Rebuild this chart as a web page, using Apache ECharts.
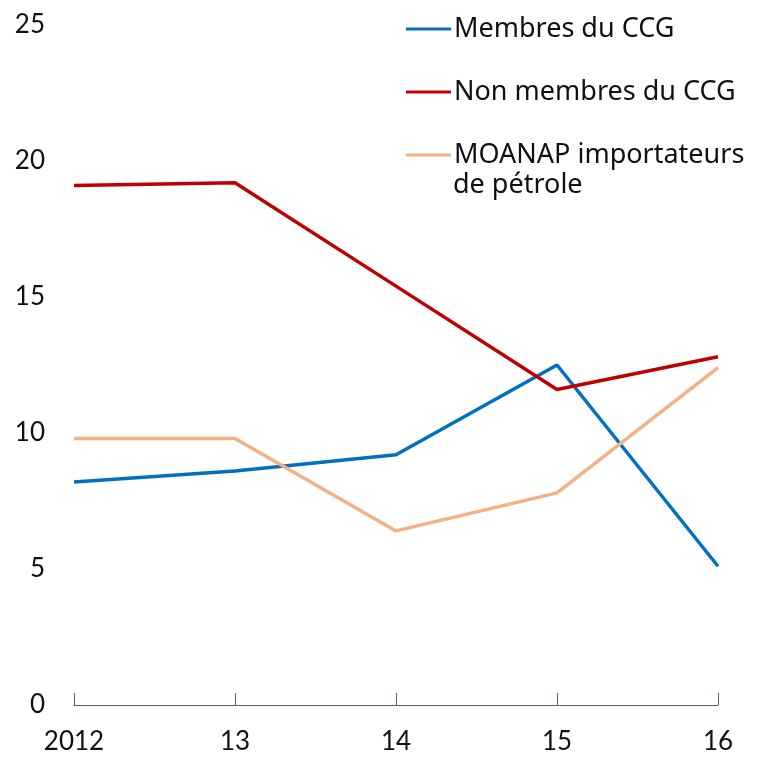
<!DOCTYPE html>
<html>
<head>
<meta charset="utf-8">
<script src="https://cdn.jsdelivr.net/npm/echarts@6/dist/echarts.min.js"></script>
<style>
  html, body { margin: 0; padding: 0; background: #fff; }
  #main { width: 759px; height: 757px; }
</style>
</head>
<body>
<div id="main"></div>
<script>
const years = ['2012', '13', '14', '15', '16']
const membresCCG = [8.2, 8.6, 9.2, 12.5, 5.1]
const nonMembresCCG = [19.1, 19.2, 15.4, 11.6, 12.8]
const moanapImport = [9.8, 9.8, 6.4, 7.8, 12.4]

const names = ['Membres du CCG', 'Non membres du CCG', 'MOANAP importateurs\nde pétrole']
const colors = ['#0070C0', '#C00000', '#F4B183']
const font = 'Lato'
const legendFont = 'Noto Sans'

const chart = echarts.init(document.getElementById('main'))
const option = {
  animation: false,
  grid: { left: 74, right: 41, top: 25, bottom: 52 },
  legend: {
    orient: 'vertical',
    left: 401,
    top: 7,
    itemGap: 29,
    itemWidth: 45,
    itemHeight: 3,
    icon: 'rect',
    // second line of the last name is drawn as a separate text below
    formatter: name => name.split('\n')[0],
    textStyle: { fontFamily: legendFont, fontSize: 27, color: '#111', lineHeight: 34, padding: [0, 0, 0, -2] },
    data: names
  },
  graphic: [
    {
      type: 'text',
      left: 453,
      top: 172,
      style: { text: names[2].split('\n')[1], fontFamily: legendFont, fontSize: 27, fill: '#111' }
    }
  ],
  xAxis: {
    type: 'category',
    data: years,
    boundaryGap: false,
    axisLine: { lineStyle: { color: '#4a6488', width: 1 } },
    axisTick: { inside: true, length: 12, alignWithLabel: true, lineStyle: { color: '#4a6488' } },
    axisLabel: { fontFamily: font, fontSize: 26, color: '#111', margin: 24 }
  },
  yAxis: {
    type: 'value',
    min: 0,
    max: 25,
    interval: 5,
    splitLine: { show: false },
    axisLine: { show: false },
    axisTick: { show: false },
    axisLabel: { fontFamily: font, fontSize: 26, color: '#111', margin: 29 }
  },
  series: [
    { name: names[0], type: 'line', data: membresCCG, symbol: 'none', lineStyle: { color: colors[0], width: 3.5 }, itemStyle: { color: colors[0] } },
    { name: names[1], type: 'line', data: nonMembresCCG, symbol: 'none', lineStyle: { color: colors[1], width: 3.5 }, itemStyle: { color: colors[1] } },
    { name: names[2], type: 'line', data: moanapImport, symbol: 'none', lineStyle: { color: colors[2], width: 3.5 }, itemStyle: { color: colors[2] } }
  ]
}
chart.setOption(option)
</script>
</body>
</html>
